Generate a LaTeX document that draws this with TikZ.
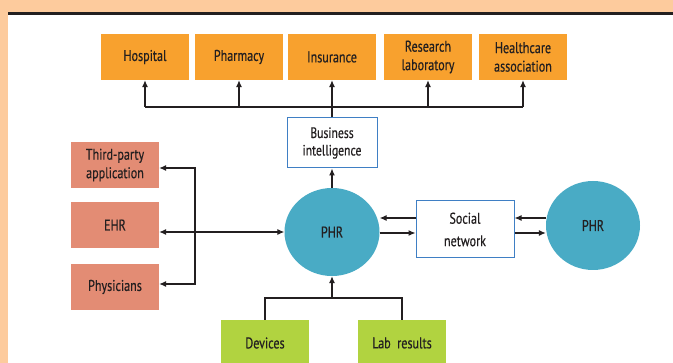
\documentclass[tikz,border=0pt]{standalone}
\usepackage{fontspec}
\setmainfont{PT Sans}[FakeStretch=0.78, FakeBold=0.4]
\usetikzlibrary{arrows.meta,calc,shapes.geometric}
\definecolor{peach}{HTML}{FDCB9D}
\definecolor{ink}{HTML}{231F20}
\definecolor{boxorange}{HTML}{F8A12E}
\definecolor{salmon}{HTML}{E38C74}
\definecolor{lime}{HTML}{B1D340}
\definecolor{teal}{HTML}{49ABC5}
\definecolor{frameblue}{HTML}{3F7FC4}

\begin{document}
\begin{tikzpicture}[x=1pt, y=-1pt, >={Latex[length=7pt,width=6pt]},
    every node/.style={text=ink, font=\fontsize{15.5}{18.5}\selectfont, align=center, inner sep=0pt},
    link/.style={line width=1.1pt, draw=ink},
    partner/.style={fill=boxorange, minimum width=88pt, minimum height=46pt},
    client/.style={fill=salmon, minimum width=88pt, minimum height=46pt},
    source/.style={fill=lime, minimum width=88pt, minimum height=46pt},
    service/.style={draw=frameblue, line width=1pt, fill=white},
    record/.style={ellipse, fill=teal, minimum width=95pt, minimum height=88pt}]
            \clip (0, 0) rectangle (673, 363);
            \fill[peach] (0, 0) rectangle (673, 363);
            \fill[white] (8, 14) rectangle (673, 363);
            \draw[ink, line width=2.4pt] (8, 13.5) -- (673, 13.5);

            \node[partner] (hosp) at (145, 57) {Hospital};
            \node[partner] (pharm) at (239, 57) {Pharmacy};
            \node[partner] (insur) at (332, 57) {Insurance};
            \node[partner] (research) at (428, 57) {Research\\laboratory};
            \node[partner] (health) at (523, 57) {Healthcare\\association};

            \node[service, minimum width=90pt, minimum height=50pt, font=\fontsize{15}{17.5}\selectfont] (bi) at (332, 143) {Business\\intelligence};
            \node[record] (phr) at (332, 232) {PHR};
            \node[service, minimum width=98pt, minimum height=57pt] (social) at (465, 229.5) {Social\\[4pt]network};
            \node[record, minimum width=94pt, minimum height=89pt] (phr2) at (593, 225.5) {PHR};

            \node[client] (third) at (115, 165) {Third-party\\application};
            \node[client] (ehr) at (115, 225) {EHR};
            \node[client] (phys) at (115, 287) {Physicians};

            \node[source] (dev) at (265, 343) {Devices};
            \node[source] (lab) at (402, 343) {Lab\ \ results};

            \coordinate (bus) at (332, 107);
            \coordinate (fork) at (195, 0);
            \coordinate (join) at (332, 298);
            \coordinate (tu) at ($(third.east)+(0, 3)$);
            \coordinate (pl) at ($(phys.east)+(0, -3)$);
            \coordinate (su) at ($(social.west)+(0, -11.5)$);
            \coordinate (sl) at ($(social.west)+(0, 3.5)$);
            \coordinate (ru) at ($(social.east)+(0, -11.5)$);
            \coordinate (rl) at ($(social.east)+(0, 3.5)$);

            \draw[link] (bus -| hosp.south) -- (bus -| health.south);
            \draw[link, ->] (bus -| hosp.south) -- (hosp.south);
            \draw[link, ->] (bus -| pharm.south) -- (pharm.south);
            \draw[link, ->] (bi.north) -- (insur.south);
            \draw[link, ->] (bus -| research.south) -- (research.south);
            \draw[link, ->] (bus -| health.south) -- (health.south);
            \draw[link, ->] (phr.north) -- (bi.south);

            \draw[link, <->] (tu) -- (tu -| fork) -- (pl -| fork) -- (pl);
            \draw[link, <->] (ehr.east |- phr.west) -- (phr.west);

            \draw[link, ->] (su) -- (su -| phr.east);
            \draw[link, ->] (sl -| phr.east) -- (sl);
            \draw[link, ->] (ru -| phr2.west) -- (ru);
            \draw[link, ->] (rl) -- (rl -| phr2.west);

            \draw[link] (dev.north) |- (lab.north |- join) -- (lab.north);
            \draw[link, ->] (join) -- (phr.south);
        \end{tikzpicture}
\end{document}
